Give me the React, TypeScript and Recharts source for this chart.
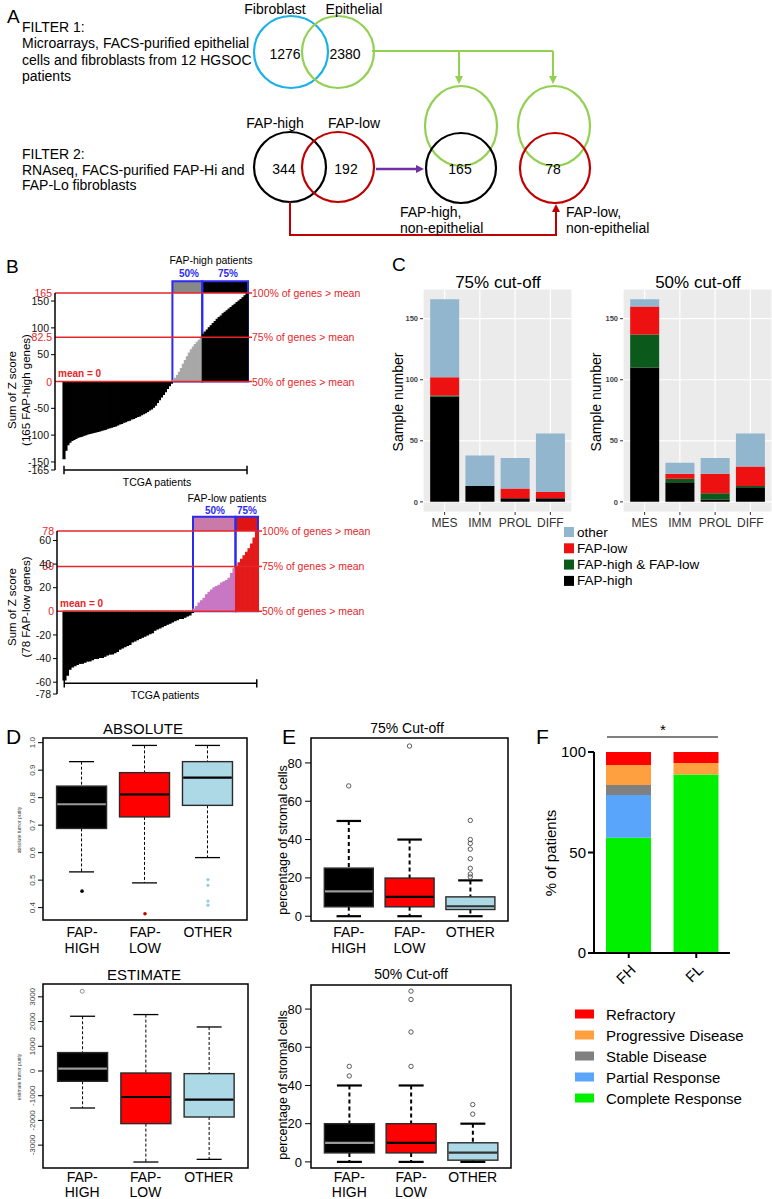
import React from 'react';
import {
  BarChart, Bar, ComposedChart, XAxis, YAxis, Cell, ReferenceLine, ReferenceArea, ReferenceDot, CartesianGrid,
} from 'recharts';

const FONT = '"Liberation Sans", Arial, Helvetica, sans-serif';
const RED = '#e5262a';
const BLUE = '#2b2bf0';

// ---------------- Panel A ----------------
const filter1Sets = ['Fibroblast', 'Epithelial'];
const filter1Counts = [1276, 2380];
const filter2Sets = ['FAP-high', 'FAP-low'];
const filter2Counts = [344, 192];
const nonEpiCounts = [165, 78];
const filterText1 = ['FILTER 1:', 'Microarrays, FACS-purified epithelial', 'cells and fibroblasts from 12 HGSOC', 'patients'];
const filterText2 = ['FILTER 2:', 'RNAseq, FACS-purified FAP-Hi and', 'FAP-Lo fibroblasts'];
const nonEpiLabels = [['FAP-high,', 'non-epithelial'], ['FAP-low,', 'non-epithelial']];

// ---------------- Panel B ----------------
const fhNeg = [-144, -128, -118, -113, -110, -108, -106, -104, -103, -102, -100, -99, -98, -97, -96, -95, -94, -93, -92, -91,
  -90, -89, -87, -86, -85, -84, -83, -81, -79, -78, -76, -75, -73, -72, -70, -69, -67, -65, -64, -62,
  -60, -58, -56, -53, -51, -48, -44, -39, -34, -29, -24, -19, -13, -8, -3];
const fh50 = [2, 6, 11, 17, 24, 32, 39, 46, 53, 59, 64, 69, 73, 77, 80];
const fh75 = [88, 92, 96, 100, 104, 108, 112, 116, 119, 122, 126, 129, 132, 135, 138, 141, 144, 147, 150, 153, 156, 160, 165];
const fhTicks = [-165, -150, -100, -50, 50, 100, 150];
const fhTickLabels = ['-165', '-150', '-100', '-50', '50', '100', '150'];
const fhRefValues = [165, 82.5, 0];
const fhRefLeft = ['165', '82.5', '0'];

const flNeg = [-58, -54, -49, -47, -46, -45, -44, -44, -43, -42, -42, -41, -40, -40, -39, -39, -38, -37, -36, -36,
  -35, -34, -32, -31, -30, -29, -28, -26, -25, -24, -23, -22, -21, -20, -19, -18, -16, -15, -14, -13,
  -12, -11, -10, -9, -8, -7, -6, -6, -5, -4, -3, -1];
const fl50 = [2, 4, 7, 9, 11, 14, 16, 18, 20, 21, 22, 24, 25, 26, 28, 32, 36];
const fl75 = [38, 41, 44, 47, 50, 53, 57, 62, 68];
const flTicks = [-70, -60, -40, -20, 20, 40, 60];
const flTickLabels = ['-78', '-60', '-40', '-20', '20', '40', '60'];
const flRefValues = [68, 38, 0];
const flRefLeft = ['78', '39', '0'];
const refRight = ['100% of genes > mean', '75% of genes > mean', '50% of genes > mean'];

// ---------------- Panel C ----------------
const subtypes = ['MES', 'IMM', 'PROL', 'DIFF'];
const c75High = [86, 13, 3, 3];
const c75Both = [1, 0, 0, 0];
const c75Low = [15, 0, 8, 5];
const c75Other = [64, 25, 25, 48];
const c50High = [110, 16, 2, 12];
const c50Both = [27, 3, 5, 1];
const c50Low = [23, 4, 16, 16];
const c50Other = [6, 9, 13, 27];
const cLegend = ['other', 'FAP-low', 'FAP-high & FAP-low', 'FAP-high'];
const cColors = ['#93b6cf', '#ee1111', '#0b5a1b', '#000000'];

// ---------------- Panel D / E ----------------
const groupTickLines = [['FAP-', 'HIGH'], ['FAP-', 'LOW'], ['OTHER']];
const absMin = [0.53, 0.49, 0.582];
const absQ1 = [0.688, 0.73, 0.772];
const absMed = [0.776, 0.812, 0.873];
const absQ3 = [0.842, 0.891, 0.931];
const absMax = [0.931, 0.99, 0.99];
const absOut = [[0.46], [0.378], [0.502, 0.481, 0.424, 0.409]];
const absTicks = [0.4, 0.5, 0.6, 0.7, 0.8, 0.9, 1.0];

const estMin = [-1497, -3683, -3575];
const estQ1 = [-417, -2130, -1862];
const estMed = [97, -1052, -1160];
const estQ3 = [745, -81, -107];
const estMax = [2215, 2283, 1781];
const estOut = [[3227], [], []];
const estTicks = [-3000, -2000, -1000, 0, 1000, 2000, 3000];

const s75Min = [0, 0, 0];
const s75Q1 = [4.9, 4.9, 3.5];
const s75Med = [13, 10.1, 5.2];
const s75Q3 = [25.1, 19.9, 10.1];
const s75Max = [49.7, 40, 18.7];
const s75Out = [[68], [88.8], [50, 40, 38, 35, 30, 25, 22, 20.5]];
const s50Min = [0, 0, 0];
const s50Q1 = [4.7, 4.7, 0.9];
const s50Med = [10, 10, 4.9];
const s50Q3 = [20, 20, 10];
const s50Max = [40, 40, 20];
const s50Out = [[50, 45], [89.4, 85, 68, 50], [30, 25]];
const stromaTicks = [0, 20, 40, 60, 80];

// ---------------- Panel F ----------------
const respGroups = ['FH', 'FL'];
const respNames = ['Refractory', 'Progressive Disease', 'Stable Disease', 'Partial Response', 'Complete Response'];
const refractory = [6.5, 5.5];
const progressive = [9.9, 5.7];
const stable = [5, 0];
const partial = [21.3, 0];
const complete = [57.3, 88.8];
const respColors = ['#ff0000', '#ffa040', '#808080', '#58a5fb', '#00f000'];

// ---------------- helpers ----------------
const T = (p: any) => {
  const { x, y, s = 13, a = 'start', c = '#000', w = 'normal', r, children } = p;
  return (
    <text x={x} y={y} fontSize={s} textAnchor={a} fill={c} fontWeight={w} dominantBaseline="central"
      transform={r ? `rotate(${r} ${x} ${y})` : undefined}>{children}</text>
  );
};

const arrowDown = (x: number, y: number, c: string) => (
  <polygon points={`${x - 4},${y - 8} ${x + 4},${y - 8} ${x},${y}`} fill={c} />
);

const makeRefLabel = (left: string, right: string, isZero: boolean) => (props: any) => {
  const vb = props.viewBox || {};
  const x = vb.x ?? 0;
  const y = vb.y ?? 0;
  const w = vb.width ?? 0;
  return (
    <g>
      <text x={x - 3} y={y} textAnchor="end" dominantBaseline="central" fontSize={10.5} fill={RED}>{left}</text>
      <line x1={x + w} x2={x + w + 4} y1={y} y2={y} stroke={RED} strokeWidth={1.5} />
      <text x={x + w + 4} y={y} textAnchor="start" dominantBaseline="central" fontSize={10.5} fill={RED}>{right}</text>
      {isZero ? (
        <text x={x + 3} y={y - 8} textAnchor="start" dominantBaseline="central" fontSize={10} fontWeight="bold" fill={RED}>mean = 0</text>
      ) : null}
    </g>
  );
};

function Waterfall(p: any) {
  const rows = [
    ...p.neg.map((v: number) => ({ v, g: 0 })),
    ...p.mid.map((v: number) => ({ v, g: 1 })),
    ...p.high.map((v: number) => ({ v, g: 2 })),
  ].map((r, i) => ({ ...r, i }));
  const g1 = p.neg.length;
  const g2 = p.neg.length + p.mid.length;
  const last = rows.length - 1;
  const d = p.tickHalf;
  return (
    <div style={{ position: 'absolute', left: 0, top: p.top }}>
      <BarChart width={p.width} height={p.height} data={rows} barCategoryGap={0} barGap={0}
        margin={{ top: p.plotTop - p.top, right: p.width - p.barEnd, bottom: p.top + p.height - p.plotBottom, left: 0 }}>
        <XAxis dataKey="i" type="category" hide padding={{ left: p.barStart - p.axisX, right: 0 }} />
        <YAxis width={p.axisX} type="number" domain={p.domain} ticks={p.ticks} interval={0} allowDataOverflow
          tickFormatter={(v: number) => p.tickLabels[p.ticks.indexOf(v)] ?? String(v)}
          tick={{ fontSize: 10.5, fill: '#111' }} tickSize={4} tickMargin={2}
          tickLine={{ stroke: '#000' }} axisLine={{ stroke: '#000', strokeWidth: 1.5 }} />
        <Bar dataKey="v" isAnimationActive={false}>
          {rows.map((r) => (
            <Cell key={r.i} fill={p.barColors[r.g]} stroke={p.barColors[r.g]} strokeWidth={1.1} />
          ))}
        </Bar>
        <ReferenceArea x1={g1} x2={g2 - 1} y1={p.refValues[0]} y2={p.bandTop} fill={p.bandColors[0]} fillOpacity={1} stroke="none" ifOverflow="visible" />
        <ReferenceArea x1={g2} x2={last} y1={p.refValues[0]} y2={p.bandTop} fill={p.bandColors[1]} fillOpacity={1} stroke="none" ifOverflow="visible" />
        {p.refValues.map((v: number, k: number) => (
          <ReferenceLine key={'r' + k} y={v} stroke={RED} strokeWidth={1.5} ifOverflow="visible"
            label={makeRefLabel(p.refLeft[k], refRight[k], v === 0)} />
        ))}
        <ReferenceArea x1={g1} x2={g2 - 1} y1={0} y2={p.bandTop} fill="none" fillOpacity={0} stroke={BLUE} strokeWidth={2} ifOverflow="visible" />
        <ReferenceArea x1={g2} x2={last} y1={0} y2={p.bandTop} fill="none" fillOpacity={0} stroke={BLUE} strokeWidth={2} ifOverflow="visible" />
        <ReferenceLine segment={[{ x: 0, y: p.bracketY }, { x: last, y: p.bracketY }]} stroke="#000" strokeWidth={1.5} ifOverflow="visible" />
        <ReferenceLine segment={[{ x: 0, y: p.bracketY - d }, { x: 0, y: p.bracketY + d }]} stroke="#000" strokeWidth={1.5} ifOverflow="visible" />
        <ReferenceLine segment={[{ x: last, y: p.bracketY - d }, { x: last, y: p.bracketY + d }]} stroke="#000" strokeWidth={1.5} ifOverflow="visible" />
      </BarChart>
    </div>
  );
}

function SubtypeChart(p: any) {
  const rows = subtypes.map((name, k) => ({
    name, high: p.high[k], both: p.both[k], low: p.low[k], other: p.other[k],
  }));
  return (
    <div style={{ position: 'absolute', left: p.left, top: 280 }}>
      <BarChart width={p.width} height={260} data={rows} barCategoryGap="9%"
        margin={{ top: 9, right: p.marginRight, bottom: 0, left: 0 }}>
        <CartesianGrid fill="#EBEBEB" stroke="#ffffff" strokeWidth={1.2} />
        <XAxis dataKey="name" height={28} padding={{ left: 4, right: 4 }} tickSize={3} tickMargin={3} interval={0}
          tickLine={{ stroke: '#333' }} axisLine={false} tick={{ fontSize: 12, fill: '#333' }} />
        <YAxis width={43} type="number" domain={[-8.3, 174.3]} ticks={[0, 50, 100, 150]} allowDataOverflow interval={0}
          tickSize={3} tickMargin={2} tickLine={{ stroke: '#333' }} axisLine={false}
          tick={{ fontSize: 7.5, fontWeight: 'bold', fill: '#444' }} />
        <Bar dataKey="high" stackId="a" fill={cColors[3]} isAnimationActive={false} />
        <Bar dataKey="both" stackId="a" fill={cColors[2]} isAnimationActive={false} />
        <Bar dataKey="low" stackId="a" fill={cColors[1]} isAnimationActive={false} />
        <Bar dataKey="other" stackId="a" fill={cColors[0]} isAnimationActive={false} />
      </BarChart>
    </div>
  );
}

const makeGroupTick = (first: number, gap: number) => (props: any) => {
  const { x, y, payload } = props;
  const lines = groupTickLines[Math.round(payload.value) - 1] || [];
  return (
    <text x={x} y={y} textAnchor="middle" fontSize={14} fill="#000">
      {lines.map((l, k) => (
        <tspan key={k} x={x} y={y + first + k * gap}>{l}</tspan>
      ))}
    </text>
  );
};

const makeRotTick = (fmt: (v: number) => string) => (props: any) => {
  const { x, y, payload } = props;
  return (
    <text x={x} y={y} textAnchor="middle" fontSize={8} fill="#444" transform={`rotate(-90 ${x} ${y})`}>
      {fmt(payload.value)}
    </text>
  );
};

function BoxPlot(p: any) {
  const rows = [0, 1, 2].map((k) => ({
    x: k + 1, min: p.min[k], q1: p.q1[k], med: p.med[k], q3: p.q3[k], max: p.max[k],
  }));
  const shape = (sp: any) => {
    const { x, y, width, height } = sp;
    const d = sp.payload || sp;
    const k = Math.round(d.x) - 1;
    const span = d.max - d.min;
    const py = (v: number) => y + ((d.max - v) / span) * height;
    const cx = x + width / 2;
    const ch = width / 4;
    return (
      <g>
        <line x1={cx} x2={cx} y1={py(d.max)} y2={py(d.q3)} stroke="#000" strokeWidth={p.whiskerW} strokeDasharray={p.dash} />
        <line x1={cx} x2={cx} y1={py(d.q1)} y2={py(d.min)} stroke="#000" strokeWidth={p.whiskerW} strokeDasharray={p.dash} />
        <line x1={cx - ch} x2={cx + ch} y1={py(d.max)} y2={py(d.max)} stroke="#000" strokeWidth={p.capW} />
        <line x1={cx - ch} x2={cx + ch} y1={py(d.min)} y2={py(d.min)} stroke="#000" strokeWidth={p.capW} />
        <rect x={x} y={py(d.q3)} width={width} height={py(d.q1) - py(d.q3)} fill={p.fills[k]} stroke="#2a2a2a" strokeWidth={1.4} />
        <line x1={x + 0.7} x2={x + width - 0.7} y1={py(d.med)} y2={py(d.med)} stroke={p.medColors[k]} strokeWidth={2.2} />
      </g>
    );
  };
  return (
    <div style={{ position: 'absolute', left: p.left, top: p.top }}>
      <ComposedChart width={p.width} height={p.height} data={rows}
        margin={{ top: p.y1 - p.top, right: p.left + p.width - p.x2, bottom: 0, left: 0 }}>
        <XAxis type="number" dataKey="x" domain={[0.38, 3.62]} ticks={[1, 2, 3]} interval={0} allowDataOverflow
          height={p.top + p.height - p.y2} tickLine={false} axisLine={false} tickSize={0} tickMargin={0}
          tick={makeGroupTick(p.labFirst, p.labGap)} />
        <YAxis type="number" width={p.x1 - p.left} domain={p.domain} ticks={p.ticks} interval={0} allowDataOverflow
          axisLine={false} tickSize={p.tickSize} tickMargin={p.tickMargin} tickLine={{ stroke: '#000' }}
          tick={p.rotTick ? makeRotTick(p.fmt) : { fontSize: 13, fill: '#000' }} />
        <Bar dataKey={(d: any) => [d.min, d.max]} barSize={p.boxW} isAnimationActive={false} shape={shape} />
        {p.out.map((vals: number[], k: number) => vals.map((v, j) => (
          <ReferenceDot key={`${k}-${j}`} x={k + 1} y={v} r={p.dotR[k]} fill={p.dotFill[k]} stroke={p.dotStroke[k]}
            strokeWidth={0.8} ifOverflow="visible" />
        )))}
        <ReferenceArea y1={p.domain[0]} y2={p.domain[1]} fill="none" fillOpacity={0} stroke="#000" strokeWidth={1.5} ifOverflow="visible" />
      </ComposedChart>
    </div>
  );
}

const FTick = (props: any) => {
  const { x, y, payload } = props;
  const tx = x + 4;
  const ty = y + 7;
  return (
    <text x={tx} y={ty} textAnchor="end" dominantBaseline="central" fontSize={15} fill="#000"
      transform={`rotate(-45 ${tx} ${ty})`}>{payload.value}</text>
  );
};

function ResponseChart() {
  const rows = respGroups.map((name, k) => ({
    name, complete: complete[k], partial: partial[k], stable: stable[k], progressive: progressive[k], refractory: refractory[k],
  }));
  return (
    <div style={{ position: 'absolute', left: 540, top: 740 }}>
      <BarChart width={200} height={260} data={rows} barSize={45} margin={{ top: 12, right: 10, bottom: 0, left: 0 }}>
        <XAxis dataKey="name" height={47} padding={{ left: 1, right: 0 }} interval={0} tickSize={5} tickMargin={2}
          tick={<FTick />} tickLine={{ stroke: '#000', strokeWidth: 2 }} axisLine={{ stroke: '#000', strokeWidth: 2 }} />
        <YAxis width={54} type="number" domain={[0, 100]} ticks={[0, 50, 100]} interval={0} tickSize={6} tickMargin={2}
          tick={{ fontSize: 15, fill: '#000' }} tickLine={{ stroke: '#000', strokeWidth: 2 }} axisLine={{ stroke: '#000', strokeWidth: 2 }} />
        <Bar dataKey="complete" stackId="s" fill={respColors[4]} isAnimationActive={false} />
        <Bar dataKey="partial" stackId="s" fill={respColors[3]} isAnimationActive={false} />
        <Bar dataKey="stable" stackId="s" fill={respColors[2]} isAnimationActive={false} />
        <Bar dataKey="progressive" stackId="s" fill={respColors[1]} isAnimationActive={false} />
        <Bar dataKey="refractory" stackId="s" fill={respColors[0]} isAnimationActive={false} />
      </BarChart>
    </div>
  );
}

function PanelA() {
  const GREEN = '#92d050';
  const DRED = '#c00000';
  const S = 14;
  return (
    <g>
      <T x={7} y={16} s={19}>A</T>
      {filterText1.map((t, k) => <T key={'f1' + k} x={22} y={27 + k * 16.3} s={S}>{t}</T>)}
      {filterText2.map((t, k) => <T key={'f2' + k} x={22} y={154 + k * 15.5} s={S}>{t}</T>)}
      <ellipse cx={291} cy={52} rx={37} ry={36} fill="none" stroke="#1cb0ea" strokeWidth={2.2} />
      <ellipse cx={338} cy={52} rx={36} ry={36} fill="none" stroke={GREEN} strokeWidth={2.2} />
      <T x={275} y={9} a="middle" s={S}>{filter1Sets[0]}</T>
      <T x={354} y={9} a="middle" s={S}>{filter1Sets[1]}</T>
      <T x={285} y={54} a="middle" s={S}>{filter1Counts[0]}</T>
      <T x={345} y={54} a="middle" s={S}>{filter1Counts[1]}</T>
      <path d="M372 51 H553 M459 51 V77 M553 51 V77" stroke={GREEN} strokeWidth={2} fill="none" />
      {arrowDown(459, 84, GREEN)}
      {arrowDown(553, 84, GREEN)}
      <ellipse cx={461} cy={126} rx={36} ry={40} fill="none" stroke={GREEN} strokeWidth={2.2} />
      <ellipse cx={554} cy={126} rx={36} ry={40} fill="none" stroke={GREEN} strokeWidth={2.2} />
      <ellipse cx={461} cy={168} rx={35} ry={35} fill="none" stroke="#000" strokeWidth={2.2} />
      <ellipse cx={555} cy={168} rx={35} ry={35} fill="none" stroke={DRED} strokeWidth={2.2} />
      <T x={460} y={169} a="middle" s={S}>{nonEpiCounts[0]}</T>
      <T x={553} y={169} a="middle" s={S}>{nonEpiCounts[1]}</T>
      <ellipse cx={290} cy={167} rx={36} ry={35} fill="none" stroke="#000" strokeWidth={2.2} />
      <ellipse cx={338} cy={167} rx={36} ry={35} fill="none" stroke={DRED} strokeWidth={2.2} />
      <T x={275} y={123} a="middle" s={S}>{filter2Sets[0]}</T>
      <T x={354} y={123} a="middle" s={S}>{filter2Sets[1]}</T>
      <T x={284} y={169} a="middle" s={S}>{filter2Counts[0]}</T>
      <T x={346} y={169} a="middle" s={S}>{filter2Counts[1]}</T>
      <line x1={376} y1={169} x2={417} y2={169} stroke="#7030a0" strokeWidth={2.4} />
      <polygon points="416,165 416,173 424,169" fill="#7030a0" />
      <path d="M290 202 V235 H556 V211" stroke={DRED} strokeWidth={2} fill="none" />
      <polygon points="552,212 560,212 556,204" fill={DRED} />
      {nonEpiLabels[0].map((t, k) => <T key={'n0' + k} x={400} y={212 + k * 16} s={S}>{t}</T>)}
      {nonEpiLabels[1].map((t, k) => <T key={'n1' + k} x={566} y={212 + k * 16} s={S}>{t}</T>)}
    </g>
  );
}

export default function App() {
  return (
    <div style={{ position: 'absolute', left: 0, top: 0, width: 772, height: 1199, overflow: 'hidden', background: '#fff', fontFamily: FONT }}>
      {/* Panel B */}
      <Waterfall top={250} width={420} height={240} plotTop={293} plotBottom={470} axisX={55} barStart={63} barEnd={248}
        neg={fhNeg} mid={fh50} high={fh75} domain={[-165, 165]} ticks={fhTicks} tickLabels={fhTickLabels}
        refValues={fhRefValues} refLeft={fhRefLeft} bandTop={187} bracketY={-165} tickHalf={8}
        barColors={['#000000', '#a8a8a8', '#000000']} bandColors={['#888888', '#000000']} />
      <Waterfall top={495} width={420} height={230} plotTop={531} plotBottom={694} axisX={57} barStart={63} barEnd={258}
        neg={flNeg} mid={fl50} high={fl75} domain={[-70, 68]} ticks={flTicks} tickLabels={flTickLabels}
        refValues={flRefValues} refLeft={flRefLeft} bandTop={80} bracketY={-61} tickHalf={3.5}
        barColors={['#000000', '#c878c4', '#e31b1b']} bandColors={['#c97aa8', '#e01414']} />

      {/* Panel C */}
      <SubtypeChart left={380} width={200} marginRight={8} high={c75High} both={c75Both} low={c75Low} other={c75Other} />
      <SubtypeChart left={580} width={192} marginRight={0} high={c50High} both={c50Both} low={c50Low} other={c50Other} />

      {/* Panel D */}
      <BoxPlot left={0} top={730} width={260} height={230} x1={43} x2={247} y1={738} y2={920}
        domain={[0.355, 1.017]} ticks={absTicks} rotTick fmt={(v: number) => v.toFixed(1)} tickSize={5} tickMargin={3}
        min={absMin} q1={absQ1} med={absMed} q3={absQ3} max={absMax} out={absOut}
        fills={['#000000', '#ff0000', '#add8e6']} medColors={['#9a9a9a', '#000000', '#000000']}
        whiskerW={1} capW={1.3} dash="3 2" boxW={50} labFirst={17} labGap={15.5}
        dotR={[1.8, 1.8, 1.6]} dotFill={['#000', '#c00000', '#8fd0e3']} dotStroke={['none', 'none', 'none']} />
      <BoxPlot left={0} top={976} width={260} height={223} x1={43} x2={248} y1={984} y2={1168}
        domain={[-3925, 3520]} ticks={estTicks} rotTick fmt={(v: number) => String(v)} tickSize={5} tickMargin={3}
        min={estMin} q1={estQ1} med={estMed} q3={estQ3} max={estMax} out={estOut}
        fills={['#000000', '#ff0000', '#add8e6']} medColors={['#9a9a9a', '#000000', '#000000']}
        whiskerW={1} capW={1.3} dash="3 2" boxW={50} labFirst={14} labGap={15}
        dotR={[2, 2, 2]} dotFill={['none', 'none', 'none']} dotStroke={['#777', '#777', '#777']} />

      {/* Panel E */}
      <BoxPlot left={250} top={730} width={270} height={230} x1={311} x2={508} y1={738} y2={921}
        domain={[-2.5, 93]} ticks={stromaTicks} tickSize={6} tickMargin={3}
        min={s75Min} q1={s75Q1} med={s75Med} q3={s75Q3} max={s75Max} out={s75Out}
        fills={['#000000', '#ff0000', '#add8e6']} medColors={['#9a9a9a', '#000000', '#333333']}
        whiskerW={2} capW={2.2} dash="4 3" boxW={49} labFirst={16} labGap={15.5}
        dotR={[2.2, 2.2, 2.2]} dotFill={['none', 'none', 'none']} dotStroke={['#333', '#333', '#333']} />
      <BoxPlot left={250} top={976} width={270} height={223} x1={311} x2={511} y1={985} y2={1168}
        domain={[-3.2, 92.6]} ticks={stromaTicks} tickSize={6} tickMargin={3}
        min={s50Min} q1={s50Q1} med={s50Med} q3={s50Q3} max={s50Max} out={s50Out}
        fills={['#000000', '#ff0000', '#add8e6']} medColors={['#9a9a9a', '#000000', '#333333']}
        whiskerW={2} capW={2.2} dash="4 3" boxW={50} labFirst={14} labGap={15}
        dotR={[2.2, 2.2, 2.2]} dotFill={['none', 'none', 'none']} dotStroke={['#333', '#333', '#333']} />

      {/* Panel F */}
      <ResponseChart />

      {/* Overlay: panel A schematic and all titles */}
      <svg width={772} height={1199} style={{ position: 'absolute', left: 0, top: 0, pointerEvents: 'none' }}
        fontFamily={FONT}>
        <PanelA />

        {/* B */}
        <T x={6} y={266} s={19}>B</T>
        <T x={211} y={260} a="middle" s={10.5}>FAP-high patients</T>
        <T x={189} y={273} a="middle" s={10} w="bold" c={BLUE}>50%</T>
        <T x={228} y={273} a="middle" s={10} w="bold" c={BLUE}>75%</T>
        <T x={12} y={390} a="middle" s={11.5} r={-90}>Sum of Z score</T>
        <T x={26} y={390} a="middle" s={11.5} r={-90}>(165 FAP-high genes)</T>
        <T x={157} y={482} a="middle" s={10.5}>TCGA patients</T>
        <T x={227} y={498} a="middle" s={10.5}>FAP-low patients</T>
        <T x={215} y={510} a="middle" s={10} w="bold" c={BLUE}>50%</T>
        <T x={247} y={510} a="middle" s={10} w="bold" c={BLUE}>75%</T>
        <T x={12} y={607} a="middle" s={11.5} r={-90}>Sum of Z score</T>
        <T x={26} y={607} a="middle" s={11.5} r={-90}>(78 FAP-low genes)</T>
        <T x={165} y={695} a="middle" s={10.5}>TCGA patients</T>

        {/* C */}
        <T x={392} y={264} s={19}>C</T>
        <T x={498} y={282} a="middle" s={17}>75% cut-off</T>
        <T x={698} y={282} a="middle" s={17}>50% cut-off</T>
        <T x={398} y={402} a="middle" s={14} r={-90}>Sample number</T>
        <T x={596} y={402} a="middle" s={14} r={-90}>Sample number</T>
        {cLegend.map((t, k) => (
          <g key={'cl' + k}>
            <rect x={564} y={527 + k * 16.3} width={10} height={10} fill={cColors[k]} />
            <T x={577} y={532 + k * 16.3} s={13.5}>{t}</T>
          </g>
        ))}

        {/* D */}
        <T x={6} y={736} s={21}>D</T>
        <T x={143} y={728} a="middle" s={15}>ABSOLUTE</T>
        <T x={19} y={830} a="middle" s={5} c="#444" r={-90}>absolute tumor purity</T>
        <T x={144} y={974} a="middle" s={15}>ESTIMATE</T>
        <T x={19} y={1077} a="middle" s={5} c="#444" r={-90}>estimate tumor purity</T>

        {/* E */}
        <T x={282} y={736} s={21}>E</T>
        <T x={407} y={728} a="middle" s={14}>75% Cut-off</T>
        <T x={283} y={840} a="middle" s={12.5} r={-90}>percentage of stromal cells</T>
        <T x={411} y={974} a="middle" s={14}>50% Cut-off</T>
        <T x={283} y={1085} a="middle" s={12.5} r={-90}>percentage of stromal cells</T>

        {/* F */}
        <T x={536} y={736} s={21}>F</T>
        <line x1={607} x2={718} y1={737} y2={737} stroke="#000" strokeWidth={1} />
        <T x={663} y={729} a="middle" s={15}>*</T>
        <T x={550} y={853} a="middle" s={15} r={-90}>% of patients</T>
        {respNames.map((t, k) => (
          <g key={'fl' + k}>
            <rect x={575} y={1009.5 + k * 21} width={19} height={9} fill={respColors[k]} />
            <T x={606} y={1014 + k * 21} s={15}>{t}</T>
          </g>
        ))}
      </svg>
    </div>
  );
}
